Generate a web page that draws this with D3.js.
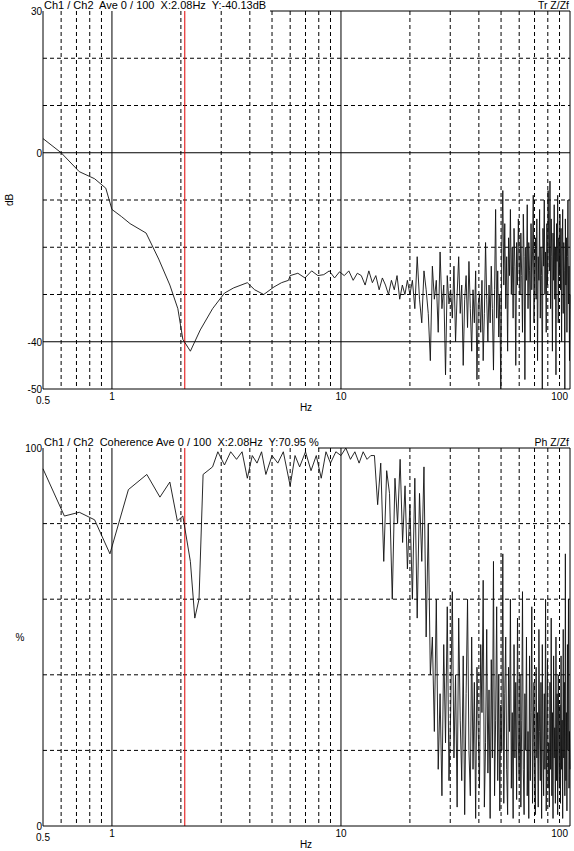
<!DOCTYPE html>
<html><head><meta charset="utf-8">
<script src="https://cdn.jsdelivr.net/npm/d3@7"></script>
<style>body{margin:0;background:#fff}svg{font-family:"Liberation Sans",Arial,sans-serif}text{white-space:pre}</style>
</head><body><svg id="c" width="574" height="851"></svg>
<script>
// Transfer function (dB): low-frequency points [Hz, dB]
const trLow = [[0.5,3],[0.6,0],[0.72,-4],[0.84,-5.5],[0.94,-7.5],[1.0,-12],[1.1,-13.5],[1.2,-15],[1.41,-17],[1.6,-22.5],[1.79,-28],[1.94,-33],[2.04,-39.5],[2.2,-42],[2.43,-37.5],[2.75,-33],[3.1,-29.7],[3.4,-28.6],[3.9,-27.5],[4.2,-29],[4.6,-30],[5.1,-28.4],[5.5,-27.5],[5.9,-27]];
const trMid = [-26,-25.5,-26.5,-25,-26,-25.8,-25,-26.5,-25.2,-26,-25,-27,-25.5,-26,-28,-25,-27.5,-26,-29,-26.5,-28,-30,-27,-29,-26,-31,-28,-30,-27]; // 6..20 Hz
const trHigh = [-30,-27,-33,-22,-31,-36,-25,-29,-34,-44,-24,-31,-27,-38,-21,-33,-28,-47,-26,-32,-29,
-35,-24,-40,-30,-22,-34,-28,-45,-31,-26,-37,-23,-33,-42,-29,-36,-25,-48,-32,
-30,-38,-27,-44,-34,-19,-31,-40,-28,-36,-24,-33,-46,-29,-12,-35,-25,-39,-30,-50,
-20,-8,-28,-15,-33,-22,-42,-18,-26,-12,-30,-20,-35,-16,-24,-45,-19,-28,-14,-23,
-30,-17,-26,-38,-13,-22,-48,-20,-27,-11,-33,-19,-25,-40,-15,-29,-21,-9,-36,-24,
-18,-31,-14,-44,-22,-27,-12,-35,-20,-26,-50,-16,-24,-10,-30,-21,-38,-15,-28,-8,
-19,-25,-6,-33,-14,-22,-42,-17,-27,-11,-31,-20,-47,-15,-23,-9,-36,-18,-26,-13,
-29,-16,-40,-21,-12,-34,-19,-25,-50,-14,-28,-18,-38,-22,-10,-32,-24,-44,-30]; // 20..100 Hz
// Coherence (%)
const cohLow = [[0.5,94.5],[0.62,82],[0.72,83],[0.84,81],[0.98,72],[1.18,89],[1.42,93],[1.62,87],[1.79,91],[1.93,80.7],[2.04,82],[2.2,70],[2.3,55],[2.4,60],[2.5,93],[2.75,95],[2.9,99],[3.1,95.5],[3.3,99],[3.5,97],[3.7,99],[3.9,92],[4.1,98],[4.3,96],[4.5,99],[4.7,93],[5.0,98],[5.3,96],[5.6,99],[6.0,90],[6.3,98],[6.6,95],[7.0,99],[7.4,94],[7.8,98],[8.2,92],[8.6,99],[9.0,96],[9.5,99],[10,98],[10.5,100],[11,97],[11.5,99],[12,96],[12.5,99],[13,97],[13.5,98]];
const cohMid = [98,85,96,70,94,88,60,92,80,97,75,90,68]; // 14..20 Hz
const cohHigh = [85,60,92,55,88,70,95,50,80,40,50,25,60,15,35,8,48,22,58,12,30,
62,18,40,5,55,28,12,45,3,35,60,20,8,50,15,38,2,42,25,
10,48,30,65,5,22,52,14,36,2,44,18,70,8,28,58,12,40,4,32,
20,72,6,35,50,15,3,42,25,60,10,30,2,48,18,38,7,55,22,12,
40,5,28,62,15,3,35,20,50,8,25,2,45,12,30,58,6,22,38,10,
3,42,18,30,5,52,25,12,38,2,48,20,8,35,15,60,4,28,44,10,
22,5,38,15,55,8,30,2,45,18,26,6,50,12,35,3,40,20,10,32,
6,45,15,28,2,52,18,38,8,72,12,30,4,48,20,60,10,25,15]; // 20..100 Hz
const xTicks = [0.5,1,10,100];
const cursorHz = 2.08;

function grid(a,b,vals){return vals.map((v,i)=>[a+(b-a)*i/(vals.length-1),v]);}
const trData = trLow.concat(grid(6,19.5,trMid), grid(20,100,trHigh));
const cohData = cohLow.concat(grid(14,19.5,cohMid), grid(20,100,cohHigh));

const svg = d3.select("#c");
const x = d3.scaleLog().domain([0.5,100]).range([43,570]);
const minor = [];
[0.1,1,10].forEach(d=>{for(let k=2;k<=9;k++){const v=d*k; if(v>0.5&&v<100) minor.push(v);}});

function panel(y0,y1,dom,hGrid,hSolid,yLabels,title,rTitle,topStart,data,yName,rotName){
  const y = d3.scaleLinear().domain(dom).range([y1,y0]);
  const g = svg.append("g");
  minor.forEach(v=>{ if(v===1||v===10) return;
    g.append("line").attr("x1",x(v)).attr("x2",x(v)).attr("y1",y0).attr("y2",y1).attr("stroke","#000").attr("stroke-dasharray","4,3");});
  [1,10].forEach(v=>g.append("line").attr("x1",x(v)).attr("x2",x(v)).attr("y1",y0).attr("y2",y1).attr("stroke","#000"));
  hGrid.forEach(v=>g.append("line").attr("x1",43).attr("x2",570).attr("y1",y(v)).attr("y2",y(v)).attr("stroke","#000").attr("stroke-dasharray","4,3"));
  hSolid.forEach(v=>g.append("line").attr("x1",43).attr("x2",570).attr("y1",y(v)).attr("y2",y(v)).attr("stroke","#000"));
  g.append("line").attr("x1",x(cursorHz)).attr("x2",x(cursorHz)).attr("y1",y0).attr("y2",y1).attr("stroke","#e00000");
  g.append("path").datum(data).attr("fill","none").attr("stroke","#111").attr("stroke-width",0.9)
    .attr("d",d3.line().x(d=>x(d[0])).y(d=>y(Math.max(dom[0],Math.min(dom[1],d[1])))));
  g.append("line").attr("x1",43).attr("x2",43).attr("y1",y0).attr("y2",y1).attr("stroke","#000");
  g.append("line").attr("x1",570).attr("x2",570).attr("y1",y0).attr("y2",y1).attr("stroke","#000");
  g.append("line").attr("x1",43).attr("x2",570).attr("y1",y1).attr("y2",y1).attr("stroke","#000");
  g.append("line").attr("x1",topStart).attr("x2",570).attr("y1",y0).attr("y2",y0).attr("stroke","#000");
  yLabels.forEach(v=>g.append("text").attr("x",42).attr("y",y(v)+4).attr("text-anchor","end").attr("font-size",10).text(v));
  g.append("text").attr("x",44).attr("y",y0-2).attr("font-size",11).text(title);
  g.append("text").attr("x",569).attr("y",y0-2).attr("text-anchor","end").attr("font-size",10.5).text(rTitle);
  xTicks.forEach(v=>g.append("text").attr("x",v===100?568:x(v)).attr("y",y1+(v===0.5?15:11)).attr("text-anchor",v===100?"end":"middle").attr("font-size",10).text(v));
  g.append("text").attr("x",306).attr("y",y1+22).attr("text-anchor","middle").attr("font-size",10).text("Hz");
  if(rotName) g.append("text").attr("transform",`translate(13,${(y0+y1)/2}) rotate(-90)`).attr("text-anchor","middle").attr("font-size",10).text(yName);
  else g.append("text").attr("x",20).attr("y",(y0+y1)/2+4).attr("text-anchor","middle").attr("font-size",10).text(yName);
}
panel(11,389,[-50,30],[20,10,-10,-20,-30],[0,-40],[30,0,-40,-50],"Ch1 / Ch2  Ave 0 / 100  X:2.08Hz  Y:-40.13dB","Tr Z/Zf",270,trData,"dB",true);
panel(448,826,[0,100],[20,40,60,80],[],[100,0],"Ch1 / Ch2  Coherence Ave 0 / 100  X:2.08Hz  Y:70.95 %","Ph Z/Zf",318,cohData,"%",false);
</script></body></html>
